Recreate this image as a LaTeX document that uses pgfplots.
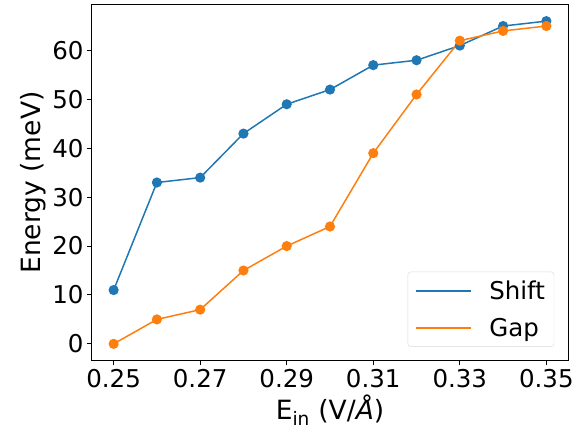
\documentclass[border=0pt]{standalone}
\usepackage{fontspec}
\setmainfont{DejaVu Sans}
\usepackage{pgfplots}
\pgfplotsset{compat=1.18}
\definecolor{mplblue}{HTML}{1F77B4}
\definecolor{mplorange}{HTML}{FF7F0E}
\newcommand{\tickfont}{\fontsize{24.5bp}{29bp}\selectfont}
\newcommand{\labfont}{\fontsize{26.5bp}{32bp}\selectfont}
\begin{document}
\begin{tikzpicture}
\begin{axis}[
    scale only axis,
    width=476bp, height=355bp,
    xmin=0.245, xmax=0.355,
    ymin=-3.3, ymax=69.3,
    xtick={0.25,0.27,0.29,0.31,0.33,0.35},
    xticklabels={0.25,0.27,0.29,0.31,0.33,0.35},
    ytick={0,10,20,30,40,50,60},
    yticklabels={0,10,20,30,40,50,60},
    tick align=outside,
    tick pos=left,
    major tick length=5bp,
    tick style={black, line width=1bp},
    axis line style={line width=1bp},
    ticklabel style={font=\tickfont},
    xticklabel style={yshift=-1bp},
    label style={font=\labfont},
    xlabel={E\textsubscript{in} (V/\textit{Å})},
    ylabel={Energy (meV)},
    ylabel style={yshift=-1bp},
    legend style={font=\tickfont, draw=black!15, rounded corners=3bp,
        at={(0.971,0.037)}, anchor=south east, inner xsep=7bp, inner ysep=7bp,
        row sep=13bp},
    legend cell align=left,
    legend image code/.code={\draw[#1, mark=none] (0bp,0bp) -- (55bp,0bp);},
    every axis plot/.append style={line width=1.5bp, mark=*, mark size=4.3bp},
]
\addplot[mplblue, mark options={fill=mplblue, draw=mplblue}] coordinates {
    (0.25,11) (0.26,33) (0.27,34) (0.28,43) (0.29,49) (0.30,52)
    (0.31,57) (0.32,58) (0.33,61) (0.34,65) (0.35,66)
};
\addlegendentry{\hspace{16bp}Shift}
\addplot[mplorange, mark options={fill=mplorange, draw=mplorange}] coordinates {
    (0.25,0) (0.26,5) (0.27,7) (0.28,15) (0.29,20) (0.30,24)
    (0.31,39) (0.32,51) (0.33,62) (0.34,64) (0.35,65)
};
\addlegendentry{\hspace{16bp}Gap}
\end{axis}
\path (current axis.south west) ++(-92bp,-70bp) (current axis.north east) ++(14bp,5bp);
\end{tikzpicture}
\end{document}
